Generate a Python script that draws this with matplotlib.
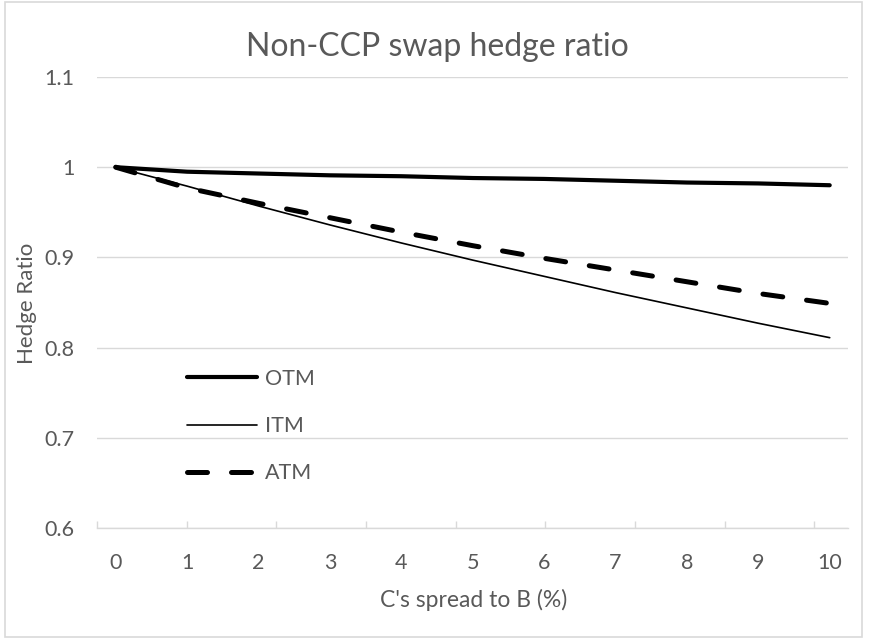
import numpy as np
import matplotlib
matplotlib.use("Agg")
import matplotlib.pyplot as plt
from matplotlib.patches import Rectangle

plt.rcParams["font.family"] = ["Lato", "DejaVu Sans"]

# C's spread to B (%)
spread = [0, 1, 2, 3, 4, 5, 6, 7, 8, 9, 10]
otm = [1.000, 0.995, 0.993, 0.991, 0.990, 0.988, 0.987, 0.985, 0.983, 0.982, 0.980]
itm = [1.000, 0.979, 0.957, 0.936, 0.916, 0.897, 0.879, 0.861, 0.844, 0.827, 0.811]
atm = [1.000, 0.977, 0.960, 0.944, 0.928, 0.913, 0.899, 0.886, 0.873, 0.860, 0.849]
y_ticks = [0.6, 0.7, 0.8, 0.9, 1.0, 1.1]
y_labels = ["0.6", "0.7", "0.8", "0.9", "1", "1.1"]

TXT = "#595959"
GRID = "#d9d9d9"
FS = 15.5

W, H = 871, 639
fig = plt.figure(figsize=(W / 100, H / 100), dpi=100)
ax = fig.add_axes([97 / W, 1 - 528 / H, (848 - 97) / W, (528 - 77) / H])

ax.plot(spread, otm, color="black", lw=3.0, solid_capstyle="round", label="OTM")
ax.plot(spread, itm, color="black", lw=1.2, solid_capstyle="round", label="ITM")
ax.plot(spread, atm, color="black", lw=3.6, linestyle=(0, (4, 4.8)),
        dash_capstyle="round", label="ATM")

xmin, xmax = -0.262, 10.256
ax.set_xlim(xmin, xmax)
ax.set_ylim(0.6, 1.1)

ax.set_xticks(spread)
ax.set_xticklabels([str(s) for s in spread])
ax.set_xticks([xmin + k * 1.256 for k in range(9)], minor=True)
ax.tick_params(axis="x", which="major", length=0, pad=18, labelsize=FS, labelcolor=TXT)
ax.tick_params(axis="x", which="minor", direction="in", length=5, width=1, color=GRID)

ax.set_yticks(y_ticks)
ax.set_yticklabels(y_labels)
ax.tick_params(axis="y", length=0, pad=16, labelsize=FS, labelcolor=TXT)

ax.grid(axis="y", color=GRID, lw=1)
ax.set_axisbelow(True)
for s in ["left", "right", "top"]:
    ax.spines[s].set_visible(False)
ax.spines["bottom"].set_color(GRID)
ax.spines["bottom"].set_linewidth(1)

ax.set_xlabel("C's spread to B (%)", fontsize=16.5, color=TXT)
ax.set_ylabel("Hedge Ratio", fontsize=16, color=TXT)
ax.xaxis.set_label_coords((474 - 97) / 751, (528 - 600) / 451)
ax.xaxis.label.set_va("center")
ax.yaxis.set_label_coords((27 - 97) / 751, (528 - 303) / 451)
ax.yaxis.label.set_va("center")

fig.text(437 / W, 1 - 47 / H, "Non-CCP swap hedge ratio", ha="center", va="center",
         fontsize=23, color=TXT)

leg = ax.legend(loc="upper left", bbox_to_anchor=(187 / W, 1 - 369 / H),
                bbox_transform=fig.transFigure, frameon=False, fontsize=FS,
                handlelength=3.25, handletextpad=0.37, labelspacing=1.26,
                borderpad=0, borderaxespad=0)
for t in leg.get_texts():
    t.set_color(TXT)

fig.patches.append(Rectangle((5 / W, 1 - 637 / H), 857 / W, 635 / H,
                             transform=fig.transFigure, fill=False,
                             edgecolor=GRID, lw=1.2))

fig.savefig("out.png", dpi=100)
